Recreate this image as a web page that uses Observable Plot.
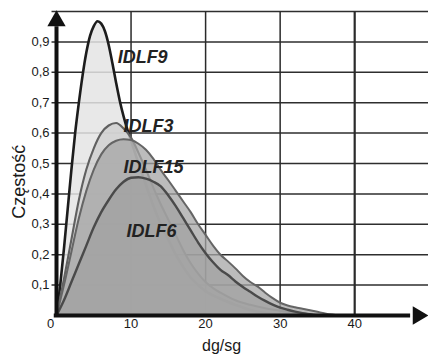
<!DOCTYPE html>
<html><head><meta charset="utf-8">
<script src="https://cdn.jsdelivr.net/npm/d3@7"></script>
<script src="https://cdn.jsdelivr.net/npm/@observablehq/plot@0.6"></script>
<style>body{margin:0;background:#fff} #chart svg{display:block}</style>
</head><body><div id="chart"></div>
<script>
const xTicks = [0, 10, 20, 30, 40];
const xTickLabels = ["0", "10", "20", "30", "40"];
const yTicks = [0.1, 0.2, 0.3, 0.4, 0.5, 0.6, 0.7, 0.8, 0.9];
const yTickLabels = ["0,1", "0,2", "0,3", "0,4", "0,5", "0,6", "0,7", "0,8", "0,9"];
const gridY = [0.1, 0.2, 0.3, 0.4, 0.5, 0.6, 0.7, 0.8, 0.9, 1.0];
const gridX = [10, 20, 30, 40];
const seriesNames = ["IDLF9", "IDLF3", "IDLF15", "IDLF6"];
const xTitle = "dg/sg";
const yTitle = "Częstość";

const idlf9X = [0,0.5,1,1.5,2,2.5,3,3.5,4,4.5,5,5.5,6,6.5,7,7.5,8,8.5,9,9.5,10,11,12,13,14,15,16,17,18,19,20,22,24,26,28,30];
const idlf9Y = [0,0.1,0.22,0.35,0.48,0.6,0.7,0.79,0.865,0.92,0.952,0.968,0.96,0.935,0.89,0.83,0.765,0.705,0.655,0.612,0.575,0.5,0.43,0.36,0.3,0.25,0.2,0.16,0.125,0.1,0.08,0.055,0.035,0.018,0.008,0];

const idlf3X = [0,1,2,3,4,5,6,7,8,9,10,11,12,13,14,15,16,17,18,19,20,21,22,24,26,28,30,32,34,36];
const idlf3Y = [0,0.12,0.25,0.38,0.48,0.55,0.6,0.625,0.633,0.615,0.585,0.535,0.48,0.42,0.365,0.315,0.265,0.215,0.172,0.138,0.11,0.09,0.075,0.05,0.035,0.024,0.016,0.009,0.004,0];

const idlf15X = [0,1,2,3,4,5,6,7,8,9,10,11,12,13,14,15,16,17,18,19,20,21,22,23,24,25,26,27,28,29,30,31,32,33,34,35,36,37,38];
const idlf15Y = [0,0.1,0.21,0.32,0.41,0.48,0.53,0.56,0.575,0.58,0.577,0.565,0.545,0.515,0.478,0.445,0.41,0.375,0.34,0.3,0.265,0.23,0.2,0.178,0.155,0.13,0.11,0.095,0.075,0.057,0.042,0.033,0.027,0.022,0.017,0.012,0.007,0.003,0];

const idlf6X = [0,1,2,3,4,5,6,7,8,9,10,11,12,13,14,15,16,17,18,19,20,21,22,23,24,25,26,27,28,29,30,31,32,33,34,35];
const idlf6Y = [0,0.05,0.11,0.17,0.23,0.29,0.34,0.38,0.415,0.44,0.453,0.455,0.45,0.44,0.425,0.395,0.36,0.32,0.28,0.24,0.205,0.175,0.15,0.133,0.112,0.094,0.078,0.062,0.048,0.036,0.026,0.019,0.013,0.008,0.004,0];

const rows = (xs, ys) => xs.map((x, i) => ({x, y: ys[i]}));
const series = [
  {data: rows(idlf9X, idlf9Y), fill: "#e4e4e4", fo: 0.85, stroke: "#1c1c1c", sw: 2.6},
  {data: rows(idlf3X, idlf3Y), fill: "#cecece", fo: 0.8, stroke: "#606060", sw: 2.1},
  {data: rows(idlf15X, idlf15Y), fill: "#a5a5a5", fo: 0.75, stroke: "#656565", sw: 2.0},
  {data: rows(idlf6X, idlf6Y), fill: "#a0a0a0", fo: 0.7, stroke: "#4a4a4a", sw: 2.4}
];
const labelPos = [[8.2, 0.829], [9.0, 0.602], [9.0, 0.47], [9.4, 0.257]];

const marks = [
  Plot.ruleY(gridY, {x1: -0.6, x2: 49.9, stroke: "#2e2e2e", strokeWidth: 1.5}),
  Plot.ruleX(gridX, {y1: 0, y2: 1, stroke: "#2a2a2a", strokeWidth: d => d === 40 ? 2.2 : 1.5})
];
for (const s of series) {
  marks.push(Plot.areaY(s.data, {x: "x", y: "y", fill: s.fill, fillOpacity: s.fo, curve: "monotone-x"}));
  marks.push(Plot.lineY(s.data, {x: "x", y: "y", stroke: s.stroke, strokeWidth: s.sw, curve: "monotone-x"}));
}
marks.push(
  Plot.ruleX([0], {y1: 0, y2: 0.95, stroke: "#111", strokeWidth: 4}),
  Plot.ruleY([0], {x1: -0.3, x2: 47.5, stroke: "#111", strokeWidth: 4}),
  Plot.dot([0], {x: 0, y: 0.969, symbol: "triangle", r: 6.8, fill: "#111", stroke: "none"}),
  Plot.dot([0], {x: 48.5, y: 0, symbol: "triangle", r: 6.8, fill: "#111", stroke: "none", rotate: 90}),
  Plot.text(yTickLabels, {x: 0, y: (d, i) => yTicks[i], text: d => d, textAnchor: "end", dx: -7, fontSize: 13, fill: "#1a1a1a"}),
  Plot.text(xTickLabels.slice(1), {x: (d, i) => xTicks[i + 1], y: 0, text: d => d, dy: 8, lineAnchor: "middle", fontSize: 13, fill: "#1a1a1a"}),
  Plot.text([xTickLabels[0]], {x: xTicks[0], y: 0, text: d => d, dx: -6, dy: 8, lineAnchor: "middle", fontSize: 13, fill: "#1a1a1a"}),
  Plot.text([yTitle], {x: -4.97, y: 0.44, text: d => d, rotate: -90, lineAnchor: "middle", fontSize: 18, fill: "#1a1a1a"}),
  Plot.text([xTitle], {x: 22.15, y: -0.118, text: d => d, lineAnchor: "bottom", fontSize: 16, fill: "#1a1a1a"})
);
seriesNames.forEach((name, i) => {
  marks.push(Plot.text([name], {x: labelPos[i][0], y: labelPos[i][1], text: d => d, textAnchor: "start", lineAnchor: "bottom", fontSize: 18, fontWeight: "bold", fontStyle: "italic", fill: "#222"}));
});

const chart = Plot.plot({
  width: 428, height: 356,
  marginLeft: 56, marginRight: 0, marginTop: 11, marginBottom: 41,
  x: {domain: [0, 49.9], axis: null},
  y: {domain: [0, 1], axis: null},
  style: {fontFamily: "'Liberation Sans', Arial, sans-serif", background: "white"},
  marks
});
document.getElementById("chart").appendChild(chart);
</script></body></html>
